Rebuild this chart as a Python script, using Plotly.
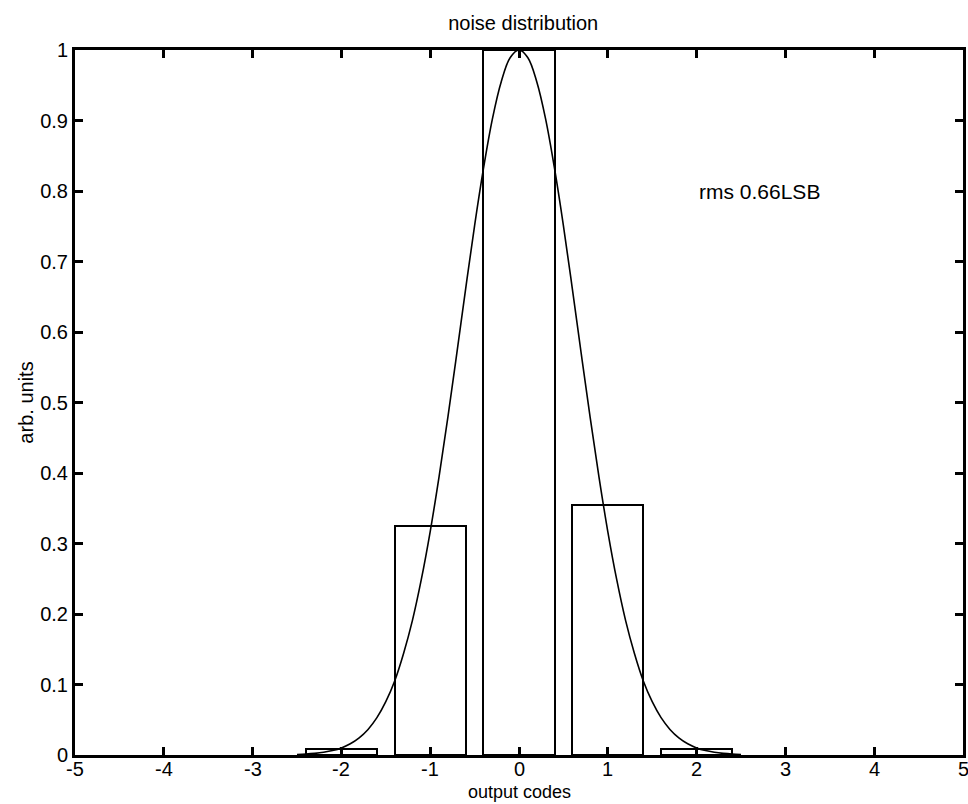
import plotly.graph_objects as go

# Histogram of output codes
codes = [-2, -1, 0, 1, 2]
counts = [0.009, 0.325, 1.0, 0.355, 0.009]

# Fitted noise curve
curve_x = [-2.5, -2.4, -2.3, -2.2, -2.1, -2.0, -1.9, -1.8, -1.7, -1.6, -1.5, -1.4, -1.3, -1.2, -1.1,
           -1.0, -0.9, -0.8, -0.7, -0.6, -0.5, -0.4, -0.3, -0.2, -0.1, 0.0,
           0.1, 0.2, 0.3, 0.4, 0.5, 0.6, 0.7, 0.8, 0.9, 1.0,
           1.1, 1.2, 1.3, 1.4, 1.5, 1.6, 1.7, 1.8, 1.9, 2.0, 2.1, 2.2, 2.3, 2.4, 2.5]
curve_y = [0.0008, 0.0013, 0.0023, 0.0039, 0.0063, 0.0101, 0.0159, 0.0243, 0.0363, 0.053, 0.0756,
           0.105, 0.144, 0.191, 0.249, 0.317, 0.395, 0.480, 0.570, 0.662, 0.751, 0.832, 0.902,
           0.955, 0.989, 1.0,
           0.989, 0.955, 0.902, 0.832, 0.751, 0.662, 0.570, 0.480, 0.395, 0.317,
           0.249, 0.191, 0.144, 0.105, 0.0756, 0.053, 0.0363, 0.0243, 0.0159, 0.0101,
           0.0063, 0.0039, 0.0023, 0.0013, 0.0008]

x_ticks = [-5, -4, -3, -2, -1, 0, 1, 2, 3, 4, 5]
x_tick_labels = ["-5", "-4", "-3", "-2", "-1", "0", "1", "2", "3", "4", "5"]
y_ticks = [0, 0.1, 0.2, 0.3, 0.4, 0.5, 0.6, 0.7, 0.8, 0.9, 1]
y_tick_labels = ["0", "0.1", "0.2", "0.3", "0.4", "0.5", "0.6", "0.7", "0.8", "0.9", "1"]

FONT = "Liberation Sans"
TICK_SIZE = 20
LABEL_SIZE = 20

fig = go.Figure()
fig.add_trace(go.Bar(
    x=codes, y=counts, width=0.8,
    marker=dict(color="rgba(255,255,255,0)", line=dict(color="black", width=2)),
    showlegend=False, hoverinfo="skip",
))
fig.add_trace(go.Scatter(
    x=curve_x, y=curve_y, mode="lines", line=dict(color="black", width=1.6, shape="spline"),
    showlegend=False, hoverinfo="skip",
))

fig.add_annotation(x=2.0, y=0.8, xref="x", yref="y", text="rms 0.66LSB", showarrow=False,
                   xanchor="left", yanchor="middle", font=dict(family=FONT, size=LABEL_SIZE + 1, color="black"))

# x tick labels placed tight under the axis (the last one is cut by the page edge, as in the reference)
for xv, lab in zip(x_ticks, x_tick_labels):
    fig.add_annotation(x=xv, y=0, xref="x", yref="paper", text=lab, showarrow=False,
                       xanchor="center", yanchor="top", yshift=-2, borderpad=0,
                       font=dict(family=FONT, size=TICK_SIZE, color="black"))

# x axis title just under the tick labels
fig.add_annotation(x=0.5, y=0, xref="paper", yref="paper", text="output codes", showarrow=False,
                   xanchor="center", yanchor="top", yshift=-26, borderpad=0,
                   font=dict(family=FONT, size=18, color="black"))

axis_common = dict(showline=True, linecolor="black", linewidth=3, mirror="ticks",
                   ticks="inside", ticklen=8, tickwidth=2.5, tickcolor="black",
                   showgrid=False, zeroline=False,
                   tickfont=dict(family=FONT, size=TICK_SIZE, color="black"))

fig.update_layout(
    width=968, height=804,
    margin=dict(l=75, r=2, t=50, b=49),
    paper_bgcolor="white", plot_bgcolor="white",
    title=dict(text="noise distribution", x=0.5405, xanchor="center", y=1 - 23 / 804, yanchor="middle",
               font=dict(family=FONT, size=LABEL_SIZE, color="black")),
    xaxis=dict(range=[-5, 5], tickvals=x_ticks, showticklabels=False, **axis_common),
    yaxis=dict(range=[0, 1], tickvals=y_ticks, ticktext=y_tick_labels,
               title=dict(text="arb. units", standoff=2, font=dict(family=FONT, size=LABEL_SIZE, color="black")),
               **axis_common),
    bargap=0,
)

fig.write_html("out.html")
